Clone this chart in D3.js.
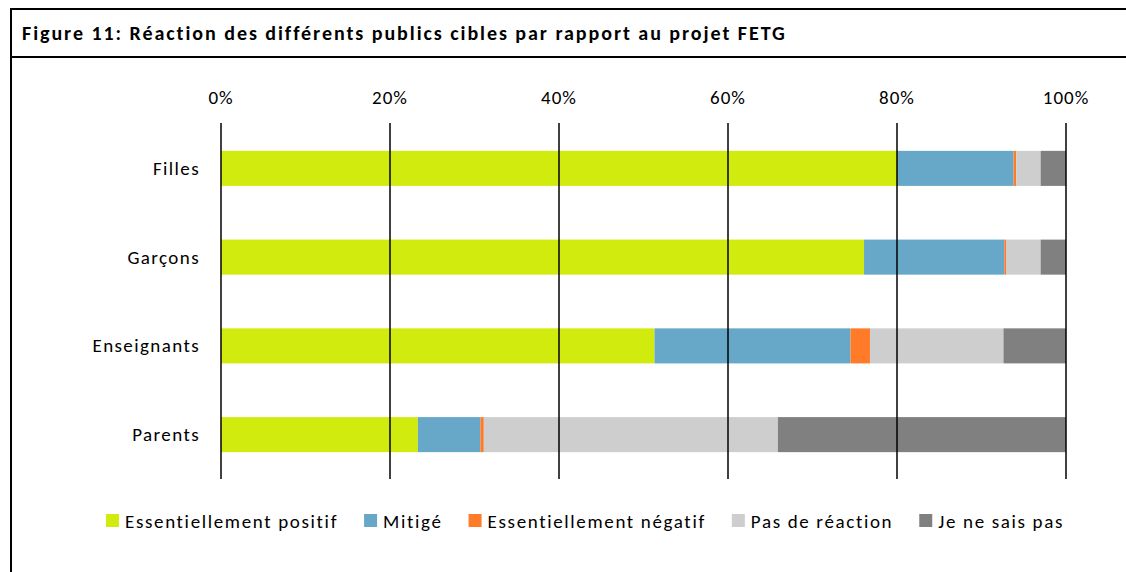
<!DOCTYPE html>
<html>
<head>
<meta charset="utf-8">
<script src="https://cdn.jsdelivr.net/npm/d3@7"></script>
<style>
    body { margin: 0; background: #fff; }
    svg text { font-family: Carlito, "Open Sans", sans-serif; fill: #000; }
</style>
</head>
<body>
<div id="chart"></div>
<script>
// chart data
const title = "Figure 11: Réaction des différents publics cibles par rapport au projet FETG";
const categories = ["Filles", "Garçons", "Enseignants", "Parents"];
const seriesNames = ["Essentiellement positif", "Mitigé", "Essentiellement négatif", "Pas de réaction", "Je ne sais pas"];
const seriesColors = ["#d2eb0e", "#67a8c8", "#ff7b27", "#cecece", "#808080"];
// percentages per category, in the order of seriesNames
const positif  = [80.0, 76.1, 51.3, 23.3];
const mitige   = [13.8, 16.6, 23.2, 7.4];
const negatif  = [0.3, 0.2, 2.3, 0.4];
const pasReact = [2.9, 4.1, 15.8, 34.8];
const nsp      = [3.0, 3.0, 7.4, 34.1];
const tickValues = [0, 20, 40, 60, 80, 100];

const width = 1126, height = 572;

const svg = d3.select("#chart")
    .append("svg")
    .attr("width", width)
    .attr("height", height);

// frame
svg.append("path")
    .attr("d", "M11,572 L11,9 L1126,9 M11,57 L1126,57")
    .attr("fill", "none")
    .attr("stroke", "#000")
    .attr("stroke-width", 2);

svg.append("text")
    .attr("x", 22)
    .attr("y", 40)
    .style("font-size", "20px")
    .style("font-weight", "bold")
    .style("letter-spacing", "1.95px")
    .text(title);

// build rows for stacking
const table = categories.map((c, i) => ({
    cat: c,
    s0: positif[i], s1: mitige[i], s2: negatif[i], s3: pasReact[i], s4: nsp[i]
}));
const keys = ["s0", "s1", "s2", "s3", "s4"];
const stacked = d3.stack().keys(keys)(table);

const x = d3.scaleLinear().domain([0, 100]).range([221, 1066]);
const y = d3.scaleBand()
    .domain(categories)
    .range([124, 479])
    .paddingInner(0.605)
    .paddingOuter(0.3025);

// bars
svg.append("g").selectAll("g")
    .data(stacked)
    .enter()
    .append("g")
    .attr("fill", (d, i) => seriesColors[i])
    .selectAll("rect")
    .data(d => d)
    .enter()
    .append("rect")
    .attr("x", d => x(d[0]))
    .attr("width", d => x(d[1]) - x(d[0]))
    .attr("y", d => y(d.data.cat))
    .attr("height", y.bandwidth());

// gridlines
svg.append("g").selectAll("line")
    .data(tickValues)
    .enter()
    .append("line")
    .attr("x1", d => x(d))
    .attr("x2", d => x(d))
    .attr("y1", 123)
    .attr("y2", 479)
    .attr("stroke", "#000")
    .attr("stroke-width", 1.5);

// tick labels on top
svg.append("g").selectAll("text")
    .data(tickValues)
    .enter()
    .append("text")
    .attr("x", d => x(d))
    .attr("y", 97)
    .attr("text-anchor", "middle")
    .attr("dominant-baseline", "central")
    .style("font-size", "19px")
    .style("letter-spacing", "1px")
    .text(d => d + "%");

// category labels
svg.append("g").selectAll("text")
    .data(categories)
    .enter()
    .append("text")
    .attr("x", 200)
    .attr("y", d => y(d) + y.bandwidth() / 2)
    .attr("text-anchor", "end")
    .attr("dominant-baseline", "central")
    .style("font-size", "19px")
    .style("letter-spacing", "1.4px")
    .text(d => d);

// legend
const legend = svg.append("g");
const items = legend.selectAll("g")
    .data(seriesNames)
    .enter()
    .append("g");
items.append("rect")
    .attr("width", 13)
    .attr("height", 13)
    .attr("y", 514)
    .attr("fill", (d, i) => seriesColors[i]);
items.append("text")
    .attr("x", 19)
    .attr("y", 521)
    .attr("dominant-baseline", "central")
    .style("font-size", "19px")
    .style("letter-spacing", "1.65px")
    .text(d => d);

let lx = 0;
items.each(function() {
    const w = d3.select(this).select("text").node().getComputedTextLength();
    d3.select(this).attr("transform", "translate(" + lx + ",0)");
    lx += 19 + w + 26;
});
lx -= 26;
legend.attr("transform", "translate(" + (585 - lx / 2) + ",0)");
</script>
</body>
</html>
